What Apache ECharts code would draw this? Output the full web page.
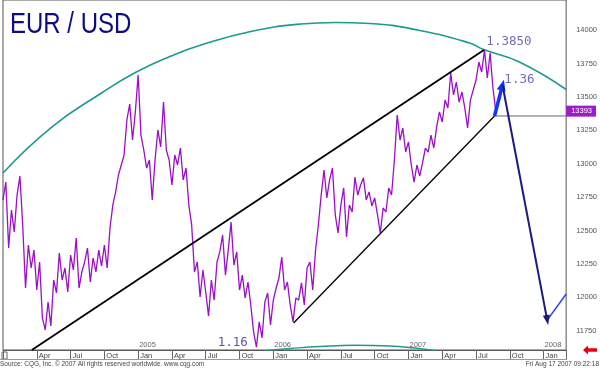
<!DOCTYPE html>
<html><head><meta charset="utf-8">
<script src="https://cdn.jsdelivr.net/npm/echarts@6/dist/echarts.min.js"></script>
<style>html,body{margin:0;padding:0;background:#fff}#c{width:600px;height:370px}</style>
</head><body><div id="c"></div>
<script>
// x = months since Jan 2004
const startMonth = 0;
const stepMonths = 0.25;
const eurusd = [
12728,12862,12368,12653,12488,12765,12907,12541,12069,12391,
12219,12353,12054,12264,11844,11755,11964,11785,12129,12032,
12331,12129,12219,12039,12316,12204,12443,12069,12189,12264,
12368,12114,12294,12189,12353,12234,12391,12219,12518,12690,
12788,12915,12990,13065,13327,13446,13177,13387,13664,13214,
13102,12967,13027,12728,13027,13252,13125,13461,13102,13027,
12840,13065,12990,13117,12878,12967,12690,12541,12189,12264,
12002,12204,12039,11859,12129,11979,12264,12339,12466,12166,
12353,12563,12241,12339,12054,12166,11994,12114,11942,11740,
11627,11815,11695,11964,12032,11792,11979,12069,12144,12301,
12054,12114,11942,11815,11994,11979,12107,11942,12219,12264,
12054,12353,12541,12765,12952,12743,12878,12967,12616,12481,
12690,12818,12451,12690,12638,12900,12765,12840,12893,12728,
12788,12683,12743,12616,12481,12668,12638,12818,12765,13027,
13364,13177,13267,13087,13162,12990,12862,12990,12907,13005,
13117,13087,13214,13117,13274,13387,13312,13476,13417,13679,
13514,13611,13461,13536,13417,13267,13476,13551,13626,13761,
13686,13850,13641,13828,13566,13393
];
const monthNames = ['Jan','Apr','Jul','Oct'];
const yearLabels = ['2005','2006','2007','2008'];
const priceTicks = [11750,12000,12250,12500,12750,13000,13250,13500,13750,14000];
const lastPrice = 13393;
const upperChannel = [[2.56,11605],[42.7,13850]];
const lowerChannel = [[25.8,11807],[43.64,13357]];
const supportLine = [[43.64,13357],[50,13357]];
const upArrow = [[43.64,13357],[44.35,13589]];
const downArrow = [[44.35,13589],[48.32,11829]];
const reboundLine = [[48.32,11829],[50,12024]];
const bigArc = [[0,12930],[4.33,13274],[8.75,13529],[11.84,13686],[14.93,13806],[17.58,13888],[22.0,13989],[26.41,14045],[29.5,14057],[32.6,14049],[37.0,13997],[41.43,13903],[42.67,13854],[45.85,13761],[50,13555]];
const smallArc = [[23.3,11600],[25.5,11616],[28.15,11631],[31.24,11640],[34.33,11635],[36.53,11620],[38.47,11600]];
const annotations = [
  {name:'1.3850', value:[44.92,13911], color:'#4848aa'},
  {name:'1.36', value:[45.85,13626], color:'#4848aa'},
  {name:'1.16', value:[20.4,11657], color:'#2b2b9c'}
];

const chart = echarts.init(document.getElementById('c'), null, {renderer:'canvas'});
const lineS = (data, color, width, extra) => Object.assign({
  type:'line', data, symbol:'none', showSymbol:false, silent:true,
  lineStyle:{color, width}, itemStyle:{color}
}, extra||{});

chart.setOption({
  animation:false,
  backgroundColor:'#fff',
  grid:{left:1, top:0, right:33, bottom:20, show:true, borderColor:'#555', borderWidth:1, backgroundColor:'#fff'},
  xAxis:[{
    type:'value', min:0, max:50, interval:3,
    axisLine:{show:true, lineStyle:{color:'#555'}},
    axisTick:{show:true, length:9, lineStyle:{color:'#666'}},
    axisLabel:{margin:2, fontSize:7.5, color:'#444', align:'left', padding:[0,0,0,2], fontFamily:'Liberation Sans, Arial',
      formatter:v => (v>0 && v%3===0) ? monthNames[(v%12)/3] : ''},
    splitLine:{show:false}
  },{
    type:'value', min:0, max:50, interval:12, position:'bottom',
    axisLine:{show:false}, axisTick:{show:false}, splitLine:{show:false},
    axisLabel:{inside:true, margin:1, fontSize:7.5, color:'#666', align:'left', padding:[0,0,0,1], fontFamily:'Liberation Sans, Arial',
      formatter:v => (v>0 && v%12===0) ? yearLabels[v/12-1] : ''}
  }],
  yAxis:{
    type:'value', min:11605, max:14225, position:'right',
    axisLine:{show:false}, axisTick:{show:false}, splitLine:{show:false},
    axisLabel:{margin:10, fontSize:7.5, color:'#555', fontFamily:'Liberation Sans, Arial', customValues:priceTicks,
      formatter:v => String(v)}
  },
  series:[
    lineS(bigArc, '#1b9a90', 1.6, {smooth:0.5, z:1}),
    lineS(smallArc, '#1b9a90', 1.4, {smooth:0.5, z:1}),
    lineS(eurusd.map((v,i)=>[startMonth+i*stepMonths, v]), '#9a0fc9', 1.3, {z:2,
      markLine:{silent:true, symbol:'none', animation:false,
        lineStyle:{color:'rgba(0,0,0,0)', width:0},
        label:{show:true, position:'end', distance:0, formatter:String(lastPrice), backgroundColor:'#9c1cc8', color:'#fff',
          fontSize:7.5, padding:[2,4,1,5], fontFamily:'Liberation Sans, Arial'},
        data:[{yAxis:lastPrice}]}}),
    lineS(upperChannel, '#000', 1.8, {z:3}),
    lineS(lowerChannel, '#000', 1.3, {z:3}),
    lineS(supportLine, '#666', 1, {z:3}),
    lineS(reboundLine, '#2a45f0', 1.5, {z:3}),
    lineS([], '#000', 1, {z:4,
      markLine:{silent:true, animation:false, label:{show:false},
        data:[
          [{coord:upArrow[0], symbol:'none', lineStyle:{color:'#1035ff', width:3.5, type:'solid'}},
           {coord:upArrow[1], symbol:'triangle', symbolSize:[9,11]}],
          [{coord:downArrow[0], symbol:'none', lineStyle:{color:'#1a1a80', width:2, type:'solid'}},
           {coord:downArrow[1], symbol:'triangle', symbolSize:[7,10]}]
        ]}}),
    {type:'scatter', symbolSize:0, silent:true, z:5,
      data:annotations.map(a=>({name:a.name, value:a.value, label:{color:a.color}})),
      label:{show:true, position:'inside', formatter:p=>p.name, fontSize:12.5, fontFamily:'DejaVu Sans Mono, monospace'}}
  ],
  graphic:[
    {type:'text', left:10, top:10, scaleX:0.8, style:{text:'EUR / USD', font:'30px "Liberation Sans", Arial, sans-serif', fill:'#0d0d80'}},
    {type:'rect', shape:{x:2, y:352, width:5, height:7}, style:{fill:'none', stroke:'#666', lineWidth:1}},
    {type:'line', shape:{x1:0, y1:359.5, x2:567, y2:359.5}, style:{stroke:'#999', lineWidth:1}},
    {type:'polygon', shape:{points:[[583,350],[588,345.5],[588,348.3],[597,348.3],[597,351.7],[588,351.7],[588,354.5]]}, style:{fill:'#e8000c'}},
    {type:'text', left:0, top:361, style:{text:'Source: CQG, Inc. \u00a9 2007 All rights reserved worldwide. www.cqg.com', font:'6.5px "Liberation Sans", Arial', fill:'#444'}},
    {type:'text', right:1, top:361, style:{text:'Fri Aug 17 2007 09:22:18', font:'6.5px "Liberation Sans", Arial', fill:'#444'}}
  ]
});
</script></body></html>
